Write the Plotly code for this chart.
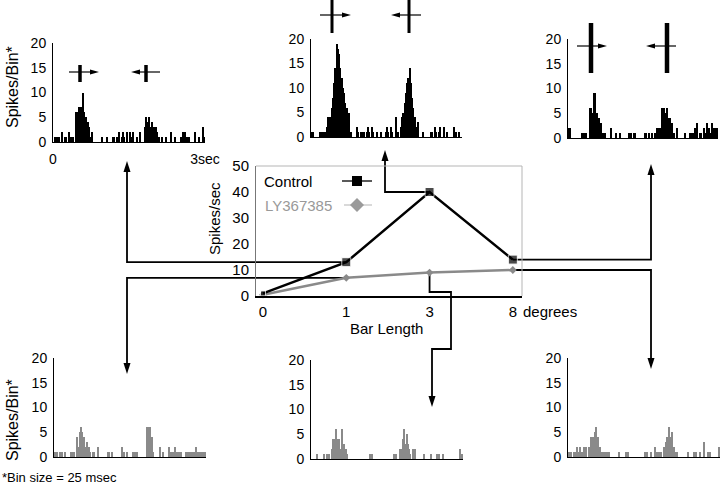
import plotly.graph_objects as go

W, H = 720, 484
FONT = "Liberation Sans, Arial, sans-serif"

# ---------------- data ----------------
bar_length_labels = ['0', '1', '3', '8']
control_rate = [1, 13, 40, 14]      # spikes/sec
ly_rate = [0.5, 7, 9, 10]           # spikes/sec

n_bins = 120                        # 3 s at 25 ms per bin
time_tick_labels = ['0', '3sec']
hist_y_ticks = [0, 5, 10, 15, 20]
rate_y_ticks = [0, 10, 20, 30, 40, 50]

# control PSTHs (top row): bar length 1, 3, 8 degrees
ctrl_1deg = [0,1,1,1,1,0,0,2,0,1,1,0,2,1,1,1,0,0,6,6,
             7,6,7,10,6,4,5,4,3,1,2,0,0,0,0,0,0,0,1,0,
             0,0,1,0,0,0,0,1,1,0,1,0,2,0,1,2,1,0,2,0,
             2,0,1,2,0,0,1,0,2,0,0,0,3,5,4,5,3,2,4,3,
             2,3,2,1,0,0,1,0,0,1,0,0,0,2,0,0,1,0,0,0,
             0,1,2,1,2,1,0,1,0,0,0,0,2,0,0,1,0,0,3,1]
ctrl_3deg = [1,1,0,0,0,0,0,1,1,1,1,1,2,4,3,4,6,8,11,14,
             19,18,17,14,12,10,9,7,6,5,5,1,0,0,0,0,2,1,0,1,
             1,0,1,0,1,2,1,0,2,1,0,0,1,0,0,1,0,0,0,1,
             2,1,0,2,1,0,0,4,0,1,0,2,4,5,7,9,11,12,14,11,
             8,6,4,2,0,3,0,0,0,1,0,0,0,0,0,1,1,0,2,1,
             0,1,2,0,0,2,0,0,1,0,0,0,0,2,0,1,0,1,0,0]
ctrl_8deg = [2,2,0,0,0,0,0,0,0,0,0,1,1,1,1,0,0,6,6,5,
             9,9,5,5,4,3,3,1,1,1,0,0,0,0,2,0,0,0,1,0,
             0,1,0,0,0,0,0,0,1,0,1,0,1,1,0,0,0,0,0,0,
             0,1,1,0,1,0,0,1,0,1,0,2,2,2,2,6,6,5,5,6,
             4,4,3,3,1,0,0,2,0,0,0,0,0,1,0,0,0,1,1,1,
             1,2,0,3,0,1,1,0,2,1,1,3,2,1,0,3,2,2,2,2]
# LY367385 PSTHs (bottom row): bar length 1, 3, 8 degrees
ly_1deg = [1,1,1,0,1,1,1,0,1,0,0,0,0,1,1,1,0,0,4,2,
           5,6,5,4,2,1,3,2,1,0,1,1,0,0,2,0,0,0,0,0,
           0,0,1,1,0,1,0,0,0,0,0,0,0,2,0,1,0,1,0,0,
           0,0,1,1,1,1,0,0,0,0,0,0,0,6,6,6,4,4,1,0,
           0,0,0,2,0,0,1,0,0,0,2,0,1,1,1,2,0,1,1,1,
           1,0,0,0,1,1,1,1,1,1,1,0,2,1,1,1,1,1,1,1]
ly_3deg = [0,0,0,0,1,0,0,0,0,0,1,0,1,1,1,0,2,4,4,6,
           4,4,4,2,6,2,3,2,1,0,0,0,0,0,0,0,0,0,0,0,
           0,0,0,0,0,0,1,0,1,0,0,0,0,0,0,0,0,0,0,0,
           0,0,0,0,0,1,1,1,0,0,2,2,4,6,3,5,3,2,1,0,
           2,2,2,0,0,0,0,0,0,1,0,0,0,0,1,0,0,0,0,1,
           0,1,0,0,1,0,0,0,0,0,0,0,0,0,0,0,0,2,1,1]
ly_8deg = [1,1,1,0,1,1,0,2,1,2,1,1,2,0,2,0,2,0,4,4,
           4,5,6,4,2,2,1,1,1,1,1,1,1,0,0,0,0,0,0,0,
           1,0,0,0,0,1,0,1,0,0,0,0,0,0,0,0,0,0,0,0,
           1,1,1,0,0,1,0,0,2,0,1,1,1,1,0,2,2,3,4,6,
           4,4,5,2,1,1,1,0,0,0,0,0,0,0,1,0,0,0,0,1,
           0,1,0,0,1,0,0,3,0,0,1,1,1,0,0,0,0,0,0,2]

# ---------------- helpers ----------------
def px(x):
    return x / W

def py(y):
    return 1 - y / H

CTRL_COLOR = 'black'
LY_COLOR = '#8a8a8a'

# panel placement (pixels): x-extent of axis, y of 0 and y of 20
panels = [
    dict(counts=ctrl_1deg, color=CTRL_COLOR, x=(53, 205), y=(142, 43), xlabels=True),
    dict(counts=ctrl_3deg, color=CTRL_COLOR, x=(311, 462), y=(137, 39), xlabels=False),
    dict(counts=ctrl_8deg, color=CTRL_COLOR, x=(568, 718), y=(138, 39), xlabels=False),
    dict(counts=ly_1deg, color=LY_COLOR, x=(54, 206), y=(457, 358), xlabels=False),
    dict(counts=ly_3deg, color=LY_COLOR, x=(311, 463), y=(459, 360), xlabels=False),
    dict(counts=ly_8deg, color=LY_COLOR, x=(568, 720), y=(457, 358), xlabels=False),
]

MID_X = (256, 522)
MID_XR = (-0.084, 3.11)
MID_Y = (296, 166)
MID_YR = (0, 50)

def mid_px(i, v):
    x = MID_X[0] + (i - MID_XR[0]) / (MID_XR[1] - MID_XR[0]) * (MID_X[1] - MID_X[0])
    y = MID_Y[0] + (v - MID_YR[0]) / (MID_YR[1] - MID_YR[0]) * (MID_Y[1] - MID_Y[0])
    return x, y

fig = go.Figure()
layout = dict(
    template='none',
    width=W, height=H, autosize=False, margin=dict(l=0, r=0, t=0, b=0, pad=0),
    paper_bgcolor='white', plot_bgcolor='rgba(0,0,0,0)',
    showlegend=False, bargap=0,
    font=dict(family=FONT, size=14, color='black'),
)

bin_centers = [i + 0.5 for i in range(n_bins)]
for k, p in enumerate(panels, start=1):
    xa = 'x' if k == 1 else f'x{k}'
    ya = 'y' if k == 1 else f'y{k}'
    fig.add_trace(go.Bar(x=bin_centers, y=p['counts'], width=1,
                         marker=dict(color=p['color'], line=dict(width=0)),
                         xaxis=xa, yaxis=ya, hoverinfo='skip'))
    xkey = 'xaxis' if k == 1 else f'xaxis{k}'
    ykey = 'yaxis' if k == 1 else f'yaxis{k}'
    layout[xkey] = dict(domain=[px(p['x'][0]), px(p['x'][1])], range=[0, n_bins],
                        anchor=ya, showline=True, linecolor='black', linewidth=1,
                        showgrid=False, zeroline=False, ticks='', automargin=False,
                        tickmode='array', tickvals=[0, n_bins],
                        ticktext=time_tick_labels, showticklabels=p['xlabels'],
                        tickfont=dict(size=14), ticklabelstandoff=4)
    layout[ykey] = dict(domain=[py(p['y'][0]), py(p['y'][1])], range=[0, 20],
                        anchor=xa, showline=True, linecolor='black', linewidth=1,
                        showgrid=False, zeroline=False, ticks='', automargin=False,
                        tickmode='array', tickvals=hist_y_ticks,
                        tickfont=dict(size=14), ticklabelstandoff=3)

# middle tuning curve
mid_idx = list(range(len(bar_length_labels)))
fig.add_trace(go.Scatter(x=mid_idx, y=ly_rate, mode='lines+markers',
                         line=dict(color=LY_COLOR, width=2.5),
                         marker=dict(symbol='diamond', size=6, color=LY_COLOR),
                         xaxis='x7', yaxis='y7', hoverinfo='skip', cliponaxis=False))
fig.add_trace(go.Scatter(x=mid_idx, y=control_rate, mode='lines+markers',
                         line=dict(color=CTRL_COLOR, width=2.5),
                         marker=dict(symbol='square', size=[5, 9, 9, 9], color=CTRL_COLOR),
                         xaxis='x7', yaxis='y7', hoverinfo='skip', cliponaxis=False))
layout['xaxis7'] = dict(domain=[px(MID_X[0]), px(MID_X[1])], range=list(MID_XR),
                        anchor='y7', showline=True, linecolor='black', linewidth=1.5,
                        showgrid=False, zeroline=False, ticks='', automargin=False,
                        tickmode='array', tickvals=mid_idx,
                        ticktext=bar_length_labels[:-1] + ['8'],
                        tickfont=dict(size=15), ticklabelstandoff=1)
layout['yaxis7'] = dict(domain=[py(MID_Y[0]), py(MID_Y[1])], range=list(MID_YR),
                        anchor='x7', showline=True, linecolor='#777', linewidth=1,
                        showgrid=False, zeroline=False, ticks='', automargin=False,
                        tickmode='array', tickvals=rate_y_ticks,
                        tickfont=dict(size=15), ticklabelstandoff=3)

shapes = []
annotations = []

def line_path(points, color='black', width=1.8):
    d = 'M' + ' L'.join(f'{px(x):.5f},{py(y):.5f}' for x, y in points)
    shapes.append(dict(type='path', path=d, xref='paper', yref='paper',
                       line=dict(color=color, width=width), layer='below'))

def tri(tip, direction, length, half):
    x, y = tip
    if direction == 'up':
        pts = [(x, y), (x - half, y + length), (x + half, y + length)]
    elif direction == 'down':
        pts = [(x, y), (x - half, y - length), (x + half, y - length)]
    elif direction == 'right':
        pts = [(x, y), (x - length, y - half), (x - length, y + half)]
    else:
        pts = [(x, y), (x + length, y - half), (x + length, y + half)]
    d = 'M' + ' L'.join(f'{px(a):.5f},{py(b):.5f}' for a, b in pts) + ' Z'
    shapes.append(dict(type='path', path=d, xref='paper', yref='paper',
                       fillcolor='black', line=dict(width=0), layer='above'))

# connectors from tuning-curve points to PSTHs
AL, AH = 11, 3.5
def connector(series, i, route, direction, tip):
    sx, sy = mid_px(i, series[i])
    pts = [(sx, sy)]
    for kind, val in route:
        lx, ly = pts[-1]
        pts.append((val, ly) if kind == 'h' else (lx, val))
    tx, ty = tip
    base = ty + AL if direction == 'up' else ty - AL
    pts.append((pts[-1][0], base))
    line_path(pts)
    tri((tx, ty), direction, AL, AH)

connector(control_rate, 1, [('h', 127)], 'up', (127, 161))
connector(ly_rate, 1, [('h', 127)], 'down', (127, 374))
connector(control_rate, 2, [('h', 385)], 'up', (385, 150))
connector(ly_rate, 2, [('v', 292), ('h', 451), ('v', 349), ('h', 432)], 'down', (432, 407))
connector(control_rate, 3, [('h', 651)], 'up', (651, 164))
connector(ly_rate, 3, [('h', 651)], 'down', (651, 369))

# grey frame of the tuning-curve panel (top and right)
shapes.append(dict(type='line', xref='paper', yref='paper',
                   x0=px(MID_X[0]), x1=px(MID_X[1]), y0=py(MID_Y[1]), y1=py(MID_Y[1]),
                   line=dict(color='#b5b5b5', width=1)))
shapes.append(dict(type='line', xref='paper', yref='paper',
                   x0=px(MID_X[1]), x1=px(MID_X[1]), y0=py(MID_Y[1]), y1=py(MID_Y[0]),
                   line=dict(color='#b5b5b5', width=1)))

# stimulus icons above control PSTHs: (bar x, bar width, y top, y bottom, line y, line x0, x1, dir)
icons = [
    (80, 3.5, 65, 82, 72, 69, 99, 'right'),
    (146, 3.5, 65, 82, 72, 131, 160, 'left'),
    (332, 3, 0, 33, 15, 320, 351, 'right'),
    (409, 3, 0, 33, 15, 391, 421, 'left'),
    (591, 4.5, 23, 73, 46, 577, 607, 'right'),
    (667, 4.5, 23, 73, 46, 646, 676, 'left'),
]
for bx, bw, yt, yb, ly_, lx0, lx1, d in icons:
    shapes.append(dict(type='rect', xref='paper', yref='paper',
                       x0=px(bx - bw / 2), x1=px(bx + bw / 2), y0=py(yb), y1=py(yt),
                       fillcolor='black', line=dict(width=0)))
    if d == 'right':
        shapes.append(dict(type='line', xref='paper', yref='paper',
                           x0=px(lx0), x1=px(lx1 - 8), y0=py(ly_), y1=py(ly_),
                           line=dict(color='black', width=1.2)))
        tri((lx1, ly_), 'right', 9, 2.6)
    else:
        shapes.append(dict(type='line', xref='paper', yref='paper',
                           x0=px(lx0 + 8), x1=px(lx1), y0=py(ly_), y1=py(ly_),
                           line=dict(color='black', width=1.2)))
        tri((lx0, ly_), 'left', 9, 2.6)

# legend keys
shapes.append(dict(type='line', xref='paper', yref='paper',
                   x0=px(342), x1=px(372), y0=py(181), y1=py(181),
                   line=dict(color='black', width=1.3)))
shapes.append(dict(type='rect', xref='paper', yref='paper',
                   x0=px(352), x1=px(362), y0=py(186), y1=py(176),
                   fillcolor='black', line=dict(width=0)))
shapes.append(dict(type='line', xref='paper', yref='paper',
                   x0=px(344), x1=px(372), y0=py(205), y1=py(205),
                   line=dict(color='#c4c4c4', width=1.3)))
dia = [(357, 198), (364, 205), (357, 212), (350, 205)]
shapes.append(dict(type='path', xref='paper', yref='paper',
                   path='M' + ' L'.join(f'{px(a):.5f},{py(b):.5f}' for a, b in dia) + ' Z',
                   fillcolor='#9a9a9a', line=dict(width=0)))

def text(x, y, s, size=15, color='black', angle=0, xanchor='center'):
    annotations.append(dict(x=px(x), y=py(y), xref='paper', yref='paper', text=s,
                            showarrow=False, xanchor=xanchor, yanchor='middle',
                            textangle=angle, font=dict(family=FONT, size=size, color=color)))

text(12, 87, 'Spikes/Bin*', size=16, angle=-90)
text(12, 420, 'Spikes/Bin*', size=16, angle=-90)
text(214, 219, 'Spikes/sec', size=15, angle=-90)
text(262, 181, 'Control', size=15, xanchor='left')
text(263, 205, 'LY367385', size=15, color='#999999', xanchor='left')
text(386, 328, 'Bar Length', size=15)
deg_x, _ = mid_px(3, 0)
text(deg_x + 8, 311, 'degrees', size=15, xanchor='left')
text(0, 477, '*Bin size = 25 msec', size=13, xanchor='left')

layout['shapes'] = shapes
layout['annotations'] = annotations
fig.update_layout(**layout)
fig.write_html('out.html', config={'displayModeBar': False},
               post_script="document.body.style.margin='0';document.body.style.overflow='hidden';")
